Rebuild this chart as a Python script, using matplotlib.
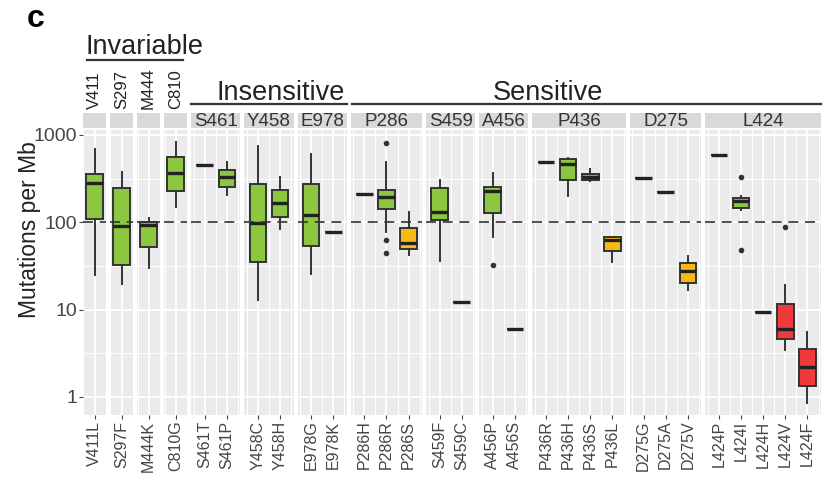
import matplotlib
matplotlib.use('Agg')
import matplotlib.pyplot as plt
import numpy as np

plt.rcParams.update({
    'font.family': ['Liberation Sans', 'DejaVu Sans'],
    'axes.linewidth': 0,
})

# facets, grouped as in the original figure
panels = ["V411", "S297", "M444", "C810", "S461", "Y458", "E978",
          "P286", "S459", "A456", "P436", "D275", "L424"]
panel_variants = [
    ["V411L"], ["S297F"], ["M444K"], ["C810G"],
    ["S461T", "S461P"], ["Y458C", "Y458H"], ["E978G", "E978K"],
    ["P286H", "P286R", "P286S"], ["S459F", "S459C"], ["A456P", "A456S"],
    ["P436R", "P436H", "P436S", "P436L"], ["D275G", "D275A", "D275V"],
    ["L424P", "L424I", "L424H", "L424V", "L424F"],
]
groups = ["Invariable", "Insensitive", "Sensitive"]

# box statistics per variant (mutations per Mb)
whislo = {"V411L": 25, "S297F": 19.7, "M444K": 30, "C810G": 151, "S461T": 454,
          "S461P": 206, "Y458C": 12.9, "Y458H": 83, "E978G": 25.6, "E978K": 78,
          "P286H": 210, "P286R": 78, "P286S": 42, "S459F": 36, "S459C": 12.2,
          "A456P": 68.6, "A456S": 6.0, "P436R": 488, "P436H": 199, "P436S": 300,
          "P436L": 35.5, "D275G": 319, "D275A": 225, "D275V": 16.8, "L424P": 582,
          "L424I": 140, "L424H": 9.5, "L424V": 3.45, "L424F": 0.86}
q1 = {"V411L": 108, "S297F": 32.5, "M444K": 52, "C810G": 229, "S461T": 454,
      "S461P": 252, "Y458C": 35.5, "Y458H": 116, "E978G": 54, "E978K": 78,
      "P286H": 210, "P286R": 141, "P286S": 49, "S459F": 106, "S459C": 12.2,
      "A456P": 129, "A456S": 6.0, "P436R": 488, "P436H": 305, "P436S": 305,
      "P436L": 47.4, "D275G": 319, "D275A": 225, "D275V": 20.4, "L424P": 582,
      "L424I": 145, "L424H": 9.5, "L424V": 4.57, "L424F": 1.34}
med = {"V411L": 281, "S297F": 91, "M444K": 93, "C810G": 363, "S461T": 454,
       "S461P": 333, "Y458C": 97.5, "Y458H": 168, "E978G": 122, "E978K": 78,
       "P286H": 210, "P286R": 194, "P286S": 57.6, "S459F": 132, "S459C": 12.2,
       "A456P": 229, "A456S": 6.0, "P436R": 488, "P436H": 465, "P436S": 328,
       "P436L": 63, "D275G": 319, "D275A": 225, "D275V": 27.3, "L424P": 582,
       "L424I": 176, "L424H": 9.5, "L424V": 5.96, "L424F": 2.19}
q3 = {"V411L": 356, "S297F": 246, "M444K": 100, "C810G": 557, "S461T": 454,
      "S461P": 398, "Y458C": 273, "Y458H": 235, "E978G": 273, "E978K": 78,
      "P286H": 210, "P286R": 235, "P286S": 87, "S459F": 246, "S459C": 12.2,
      "A456P": 251, "A456S": 6.0, "P436R": 488, "P436H": 527, "P436S": 355,
      "P436L": 68.6, "D275G": 319, "D275A": 225, "D275V": 34, "L424P": 582,
      "L424I": 192, "L424H": 9.5, "L424V": 11.5, "L424F": 3.5}
whishi = {"V411L": 690, "S297F": 381, "M444K": 111, "C810G": 827, "S461T": 454,
          "S461P": 488, "Y458C": 750, "Y458H": 333, "E978G": 600, "E978K": 78,
          "P286H": 210, "P286R": 488, "P286S": 132, "S459F": 302, "S459C": 12.2,
          "A456P": 364, "A456S": 6.0, "P436R": 488, "P436H": 540, "P436S": 405,
          "P436L": 68.6, "D275G": 319, "D275A": 225, "D275V": 41.5, "L424P": 582,
          "L424I": 200, "L424H": 9.5, "L424V": 19.2, "L424F": 5.6}
fliers = {"P286R": [805, 63, 45], "A456P": [32.5], "L424I": [328, 48.3],
          "L424V": [89]}
orange = ["P286S", "P436L", "D275V"]
red = ["L424V", "L424F"]

col_green = "#8DC63F"
col_orange = "#F9B915"
col_red = "#EE3A3A"
edge = "#333333"

W, H = 825, 483
fig = plt.figure(figsize=(W / 100, H / 100), dpi=100)

left_px, right_px, top_px, bot_px = 83, 821, 130, 415
gap_px = 4
# padding (in category units) between the outer category and the panel edge
pad_single, pad_multi = 0.52, 0.61
pads = [pad_single if len(v) == 1 else pad_multi for v in panel_variants]
units = [len(v) - 1 + 2 * p for v, p in zip(panel_variants, pads)]
unit_px = (right_px - left_px - gap_px * (len(panels) - 1)) / sum(units)

x0 = left_px
for i, (name, variants) in enumerate(zip(panels, panel_variants)):
    w = units[i] * unit_px
    ax = fig.add_axes([x0 / W, 1 - bot_px / H, w / W, (bot_px - top_px) / H])
    ax.set_facecolor("#EBEBEB")
    ax.set_yscale("log")
    ax.set_ylim(0.62, 1140)
    n = len(variants)
    ax.set_xlim(1 - pads[i], n + pads[i])

    # grid
    for yv in [1, 10, 100, 1000]:
        ax.axhline(yv, color="white", lw=1.3, zorder=0)
    for yv in [10 ** -0.5, 10 ** 0.5, 10 ** 1.5, 10 ** 2.5]:
        ax.axhline(yv, color="white", lw=0.7, zorder=0)
    for xv in np.arange(0.5, n + 0.75, 0.5):
        ax.axvline(xv, color="white", lw=1.3 if xv % 1 == 0 else 0.7, zorder=0)

    stats = []
    colors = []
    for v in variants:
        stats.append(dict(whislo=whislo[v], q1=q1[v], med=med[v], q3=q3[v],
                          whishi=whishi[v], fliers=fliers.get(v, []), label=v))
        colors.append(col_red if v in red else col_orange if v in orange else col_green)
    bp = ax.bxp(stats, positions=range(1, n + 1), widths=0.75, patch_artist=True,
                showcaps=False,
                boxprops=dict(edgecolor=edge, linewidth=1.4),
                medianprops=dict(color="#222222", linewidth=2.4),
                whiskerprops=dict(color=edge, linewidth=1.4),
                flierprops=dict(marker="o", markersize=3, markerfacecolor=edge,
                                markeredgecolor=edge))
    for patch, c in zip(bp["boxes"], colors):
        patch.set_facecolor(c)
        patch.set_zorder(2)
    ax.axhline(100, color="#333333", lw=1.2, dashes=(6, 4), zorder=3)

    ax.set_xticks(range(1, n + 1))
    ax.set_xticklabels(variants, rotation=90, fontsize=11.5, color="#444444")
    ax.tick_params(axis="x", length=3, color="#444444", pad=1)
    ax.minorticks_off()
    if i == 0:
        ax.set_yticks([1, 10, 100, 1000])
        ax.set_yticklabels(["1", "10", "100", "1000"], fontsize=14, color="#444444")
        ax.tick_params(axis="y", length=3, color="#444444", pad=1)
    else:
        ax.set_yticks([])

    # strip
    sax = fig.add_axes([x0 / W, 1 - 128 / H, w / W, 15 / H])
    sax.set_facecolor("#D9D9D9")
    sax.set_xticks([])
    sax.set_yticks([])
    if i < 4:
        fig.text((x0 + w / 2) / W, 1 - 109 / H, name, rotation=90, ha="center",
                 va="bottom", fontsize=12, color="#222222")
    else:
        sax.text(0.5, 0.45, name, ha="center", va="center", fontsize=13.5,
                 color="#333333", transform=sax.transAxes)
    x0 += w + gap_px

fig.text(30 / W, 1 - 230 / H, "Mutations per Mb", rotation=90, ha="center",
         va="center", fontsize=16.5, color="#222222")

# group headers with lines
label_x = [86, 217, 493]
label_y = [54, 100, 100]
line_y = [60, 104, 104]
line_span = [(87, 183), (191, 347), (352, 821)]
for g, lx, ly, liy, (a, b) in zip(groups, label_x, label_y, line_y, line_span):
    fig.text(lx / W, 1 - ly / H, g, ha="left", va="baseline", fontsize=19.5,
             color="#222222")
    fig.add_artist(plt.Line2D([a / W, b / W], [1 - liy / H, 1 - liy / H],
                              color="#333333", lw=1.6))

fig.text(27 / W, 1 - 27 / H, "c", fontsize=23, fontweight="bold",
         ha="left", va="baseline")

fig.savefig("out.png", dpi=100)
